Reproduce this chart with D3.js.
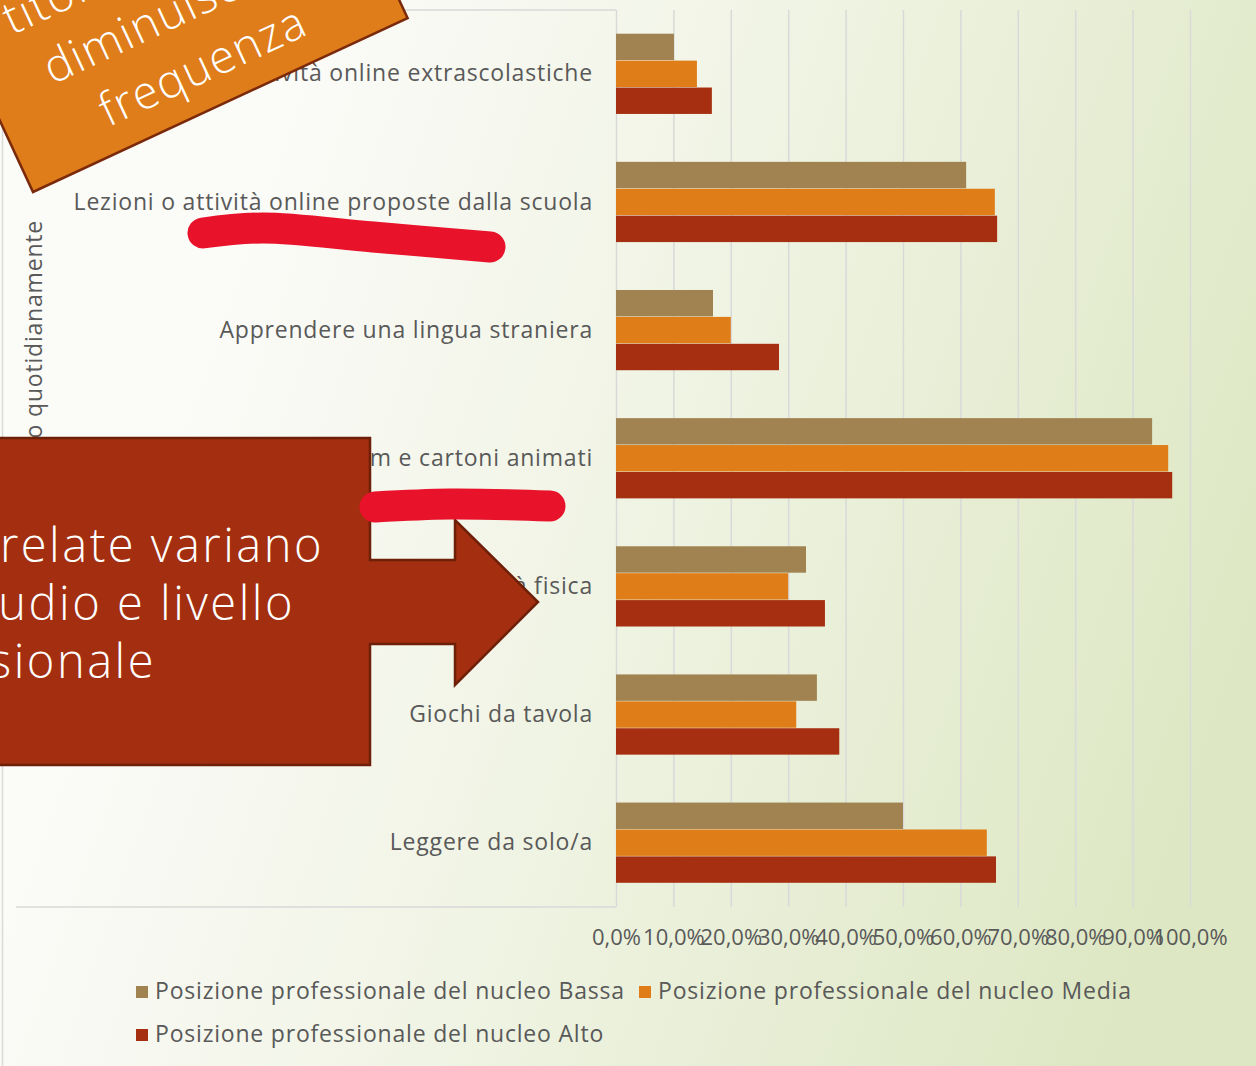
<!DOCTYPE html>
<meta charset="utf-8">
<style>
body { margin: 0; }
.axis text { font: 22px "Open Sans", sans-serif; fill: #595959; }
.cat text { font-size: 23px; letter-spacing: 0.8px; }
.legend text { font: 23px "Open Sans", sans-serif; letter-spacing: 0.8px; fill: #595959; }
.callout text { font-family: "Open Sans", sans-serif; font-weight: 300; fill: #fff; }
</style>
<svg width="1256" height="1066"></svg>
<script src="https://d3js.org/d3.v7.min.js"></script>
<script>

var categories = [
  "Corsi o attività online extrascolastiche",
  "Lezioni o attività online proposte dalla scuola",
  "Apprendere una lingua straniera",
  "Guardare film e cartoni animati",
  "Fare attività fisica",
  "Giochi da tavola",
  "Leggere da solo/a"
];
var bassa = [10.1, 61.0, 16.9, 93.4, 33.1, 35.0, 50.0];
var media = [14.1, 66.0, 20.0, 96.2, 30.0, 31.4, 64.6];
var alto  = [16.7, 66.4, 28.4, 96.9, 36.4, 38.9, 66.2];
var seriesNames = [
  "Posizione professionale del nucleo Bassa",
  "Posizione professionale del nucleo Media",
  "Posizione professionale del nucleo Alto"
];
var xTicks = [0, 10, 20, 30, 40, 50, 60, 70, 80, 90, 100];
var axisTitle = "Attività svolte spesso o quotidianamente";

var colors = ["#a08350", "#df7e19", "#a52f10"];
var series = [bassa, media, alto];

var svg = d3.select("svg"),
    width = +svg.attr("width"),
    height = +svg.attr("height");

// background
var defs = svg.append("defs");
var grad = defs.append("linearGradient")
    .attr("id", "bg")
    .attr("x1", "0.15").attr("y1", "0.35")
    .attr("x2", "1").attr("y2", "0.6");
grad.append("stop").attr("offset", "0").attr("stop-color", "#fbfbf8");
grad.append("stop").attr("offset", "0.45").attr("stop-color", "#eff3e2");
grad.append("stop").attr("offset", "1").attr("stop-color", "#dde7c3");
svg.append("rect").attr("width", width).attr("height", height).attr("fill", "url(#bg)");

var x = d3.scaleLinear().domain([0, 100]).range([616, 1190]);
var y = d3.scaleBand().domain(categories).range([10, 907])
    .paddingInner(0.37).paddingOuter(0.185);
var ySub = d3.scaleBand().domain([0, 1, 2]).range([0, y.bandwidth()]);

// chart frame lines
var frame = svg.append("g").attr("stroke", "#d9d9d9").attr("stroke-width", 1.5);
frame.append("line").attr("x1", 2.5).attr("x2", 2.5).attr("y1", 0).attr("y2", 1066);
frame.append("line").attr("x1", 16).attr("x2", 616).attr("y1", 10).attr("y2", 10);
frame.append("line").attr("x1", 16).attr("x2", 616).attr("y1", 907).attr("y2", 907);

// x axis + gridlines
var xAxis = svg.append("g")
    .attr("class", "axis")
    .attr("transform", "translate(0,907)")
    .call(d3.axisBottom(x)
      .tickValues(xTicks)
      .tickSize(-897)
      .tickPadding(22)
      .tickFormat(function(d) { return d.toFixed(1).replace(".", ",") + "%"; }));
xAxis.select(".domain").remove();
xAxis.selectAll("line").attr("stroke", "#d9d9d9").attr("stroke-width", 1.5);

// category axis
var yAxis = svg.append("g")
    .attr("class", "axis cat")
    .attr("transform", "translate(616,0)")
    .call(d3.axisLeft(y).tickSize(0).tickPadding(23));
yAxis.select(".domain").remove();

// bars
var groups = svg.append("g")
  .selectAll("g")
  .data(categories)
  .enter().append("g")
    .attr("transform", function(d) { return "translate(0," + y(d) + ")"; });

groups.selectAll("rect")
  .data(function(d, i) { return series.map(function(s, k) { return {k: k, v: s[i]}; }); })
  .enter().append("rect")
    .attr("x", x(0))
    .attr("y", function(d) { return ySub(d.k); })
    .attr("width", function(d) { return x(d.v) - x(0); })
    .attr("height", ySub.bandwidth() - 0.5)
    .attr("fill", function(d) { return colors[d.k]; });

// axis title
svg.append("text")
    .attr("transform", "translate(42,220) rotate(-90)")
    .attr("text-anchor", "end")
    .style("font", "23px 'Open Sans', sans-serif")
    .style("letter-spacing", "0.8px")
    .attr("fill", "#595959")
    .text(axisTitle);

// legend
var legendPos = [[136, 999], [639, 999], [136, 1042]];
var legend = svg.append("g").attr("class", "legend")
  .selectAll("g")
  .data(seriesNames)
  .enter().append("g")
    .attr("transform", function(d, i) { return "translate(" + legendPos[i][0] + "," + legendPos[i][1] + ")"; });
legend.append("rect")
    .attr("y", -13).attr("width", 12).attr("height", 12)
    .attr("fill", function(d, i) { return colors[i]; });
legend.append("text")
    .attr("x", 19)
    .text(function(d) { return d; });

// ---- slide overlays ----

// orange rotated box
var box = svg.append("g").attr("class", "callout")
    .attr("transform", "translate(33,192) rotate(-24.9)");
box.append("rect")
    .attr("x", 0).attr("y", -300).attr("width", 413).attr("height", 300)
    .attr("fill", "#de7d1a").attr("stroke", "#7a2a0a").attr("stroke-width", 2.5);
var boxLines = ["Al crescere del", "titolo di studio", "diminuisce la", "frequenza"];
box.selectAll("text.l")
  .data(boxLines)
  .enter().append("text")
    .attr("x", 207)
    .attr("y", function(d, i) { return -27 - (boxLines.length - 1 - i) * 62; })
    .attr("text-anchor", "middle")
    .style("font-size", "46px")
    .style("letter-spacing", "1.5px")
    .text(function(d) { return d; });

// red arrow callout
var arrowPts = [[-5, 438], [370, 438], [370, 560], [455, 560], [455, 520], [538, 602],
                [455, 685], [455, 644], [370, 644], [370, 765], [-5, 765]];
var arrow = svg.append("g").attr("class", "callout");
arrow.append("path")
    .attr("d", "M" + arrowPts.join("L") + "Z")
    .attr("fill", "#a32e10").attr("stroke", "#6e1f08").attr("stroke-width", 2.5);
var arrowLines = [
  {t: "Le attività correlate variano", x: 324, y: 562},
  {t: "con titolo di studio e livello", x: 295, y: 620},
  {t: "professionale", x: 156, y: 678}
];
arrow.selectAll("text.l")
  .data(arrowLines)
  .enter().append("text")
    .attr("x", function(d) { return d.x; })
    .attr("y", function(d) { return d.y; })
    .attr("text-anchor", "end")
    .style("font-size", "47px")
    .style("letter-spacing", "2.5px")
    .text(function(d) { return d.t; });

// marker strokes
var marks = [
  [[203, 233], [263, 228], [373, 237], [490, 247]],
  [[375, 507], [450, 504], [550, 506]]
];
svg.append("g").selectAll("path")
  .data(marks)
  .enter().append("path")
    .attr("d", d3.line().curve(d3.curveCatmullRom))
    .attr("fill", "none")
    .attr("stroke", "#e8132a")
    .attr("stroke-width", 31)
    .attr("stroke-linecap", "round");

</script>
